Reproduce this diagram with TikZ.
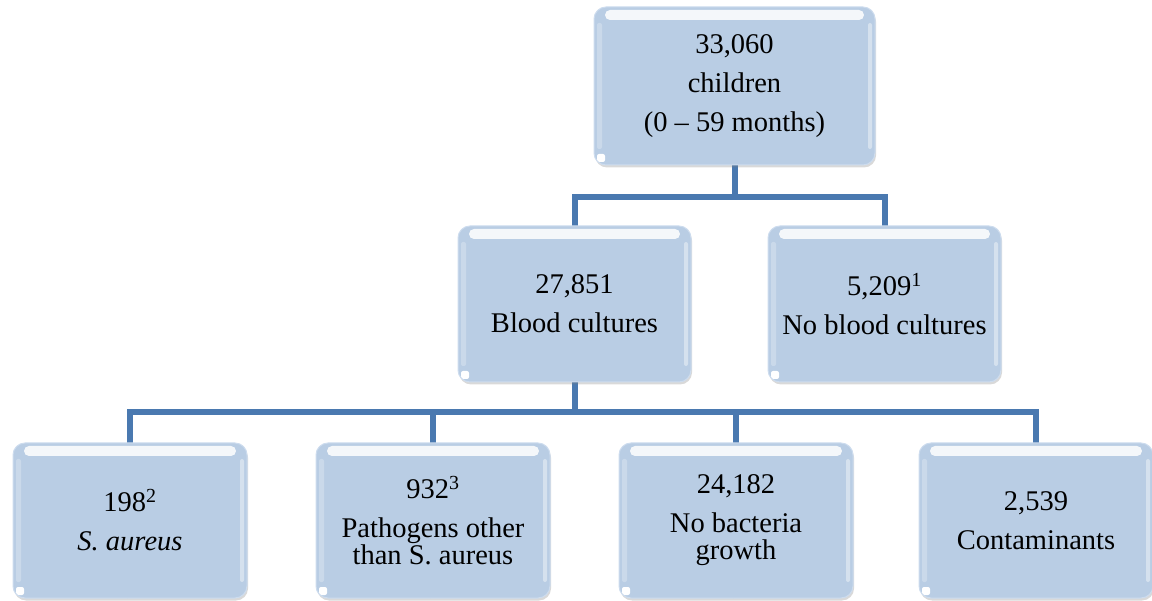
\documentclass[tikz,border=0pt]{standalone}
\usepackage{fontspec}
\setmainfont{Liberation Serif}
\usetikzlibrary{shadows}
\definecolor{boxfill}{RGB}{185,205,228}
\definecolor{boxedge}{RGB}{205,220,238}
\definecolor{connblue}{RGB}{74,121,176}
\tikzset{
  boxnode/.style={
    draw=boxedge, line width=1pt, fill=boxfill, rounded corners=12pt,
    align=center, inner sep=0pt,
    font=\fontsize{28.5}{39}\selectfont,
    drop shadow={opacity=0.3, shadow xshift=1pt, shadow yshift=-2.5pt},
    path picture={
      \fill[white, opacity=0.85, rounded corners=5pt]
        ([xshift=11pt,yshift=-3pt]path picture bounding box.north west) rectangle
        ([xshift=-11pt,yshift=-13pt]path picture bounding box.north east);
      \fill[white, opacity=0.25, rounded corners=2pt]
        ([xshift=3pt,yshift=-16pt]path picture bounding box.north west) rectangle
        ([xshift=8pt,yshift=16pt]path picture bounding box.south west);
      \fill[white, opacity=0.4, rounded corners=2pt]
        ([xshift=-3pt,yshift=-16pt]path picture bounding box.north east) rectangle
        ([xshift=-7pt,yshift=16pt]path picture bounding box.south east);
      \fill[white, rounded corners=2pt]
        ([xshift=3pt,yshift=3pt]path picture bounding box.south west) --
        ([xshift=11pt,yshift=3pt]path picture bounding box.south west) --
        ([xshift=11pt,yshift=11pt]path picture bounding box.south west) --
        ([xshift=3pt,yshift=11pt]path picture bounding box.south west) -- cycle;
    }
  },
  topbox/.style={boxnode, minimum width=281pt, minimum height=158pt},
  midbox/.style={boxnode, minimum width=233pt, minimum height=156pt},
  botbox/.style={boxnode, minimum width=234pt, minimum height=155pt},
  conn/.style={draw=connblue, line width=6pt}
}
\begin{document}
\begin{tikzpicture}[x=1pt,y=-1pt]
\useasboundingbox (0,0) rectangle (1152,601);
% connector junctions
\coordinate (bus1) at (734.5,197);
\coordinate (bus2) at (574.5,412);
\path
  (734.5,86) coordinate (ptop)
  (574.5,304) coordinate (pmidL)
  (884.5,304) coordinate (pmidR)
  (130,520.5) coordinate (pb1)
  (433,520.5) coordinate (pb2)
  (736,520.5) coordinate (pb3)
  (1036,520.5) coordinate (pb4);
% connectors
\draw[conn] (ptop) ++(0,79) -- (bus1);
\draw[conn] ([yshift=-78pt]pmidL) |- (bus1) -| ([yshift=-78pt]pmidR);
\draw[conn] (pmidL) ++(0,78) -- (bus2);
\draw[conn] ([yshift=-77.5pt]pb1) |- (bus2) -| ([yshift=-77.5pt]pb4);
\draw[conn] ([yshift=-77.5pt]pb2) -- (pb2 |- bus2);
\draw[conn] ([yshift=-77.5pt]pb3) -- (pb3 |- bus2);
% boxes
\node[topbox] (top) at (ptop) {33,060\\children\\(0 – 59 months)};
\node[midbox] (midL) at (pmidL) {27,851\\Blood cultures};
\node[midbox] (midR) at (pmidR) {5,209\textsuperscript{1}\\No blood cultures};
\node[botbox] (b1) at (pb1) {198\textsuperscript{2}\\\textit{S. aureus}};
\node[botbox] (b2) at (pb2) {932\textsuperscript{3}\\Pathogens other\\[-12pt]than S. aureus};
\node[botbox] (b3) at (pb3) {24,182\\No bacteria\\[-12pt]growth};
\node[botbox] (b4) at (pb4) {2,539\\Contaminants};
\end{tikzpicture}
\end{document}
